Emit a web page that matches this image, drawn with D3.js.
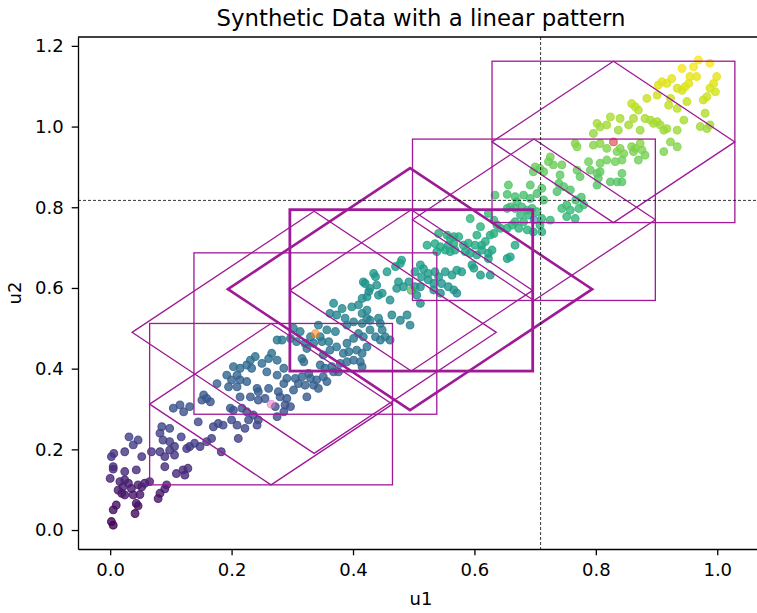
<!DOCTYPE html>
<html>
<head>
<meta charset="utf-8">
<script src="https://cdn.jsdelivr.net/npm/d3@7"></script>
<style>
  body { margin: 0; background: #fff; }
  svg { display: block; font-family: "DejaVu Sans", sans-serif; }
</style>
</head>
<body>
<div id="chart"></div>
<script>
// scatter points [u1, u2]
const points = [
  [0.031,0.231],[0.046,0.223],[0.038,0.211],[0.006,0.190],[0.002,0.182],[0.024,0.194],[0.052,0.182],[0.068,0.194],
  [0.085,0.256],[0.098,0.252],[0.082,0.240],[0.087,0.223],[0.098,0.219],[0.106,0.207],[0.117,0.231],[0.126,0.202],
  [0.131,0.207],[0.139,0.215],[0.148,0.207],[0.159,0.219],[0.167,0.227],[0.170,0.256],[0.178,0.264],[0.186,0.260],
  [0.145,0.268],[0.082,0.194],[0.090,0.182],[0.098,0.198],[0.106,0.186],[0.005,0.157],[0.005,0.151],[0.090,0.157],
  [0.043,0.149],[0.024,0.145],[0.000,0.128],[0.109,0.140],[0.120,0.149],[0.128,0.153],[0.123,0.136],[0.016,0.120],
  [0.024,0.124],[0.030,0.116],[0.021,0.107],[0.013,0.099],[0.019,0.091],[0.024,0.087],[0.035,0.103],[0.046,0.112],
  [0.052,0.107],[0.057,0.116],[0.065,0.120],[0.038,0.087],[0.049,0.088],[0.093,0.112],[0.090,0.102],[0.082,0.091],
  [0.079,0.078],[0.043,0.066],[0.046,0.060],[0.010,0.062],[0.005,0.050],[0.041,0.041],[0.002,0.021],[0.005,0.012],
  [0.183,0.194],
  [0.231,0.421],[0.239,0.430],[0.250,0.413],[0.261,0.425],[0.275,0.421],[0.225,0.409],[0.233,0.401],[0.214,0.401],
  [0.203,0.405],[0.209,0.384],[0.192,0.384],[0.200,0.372],[0.214,0.372],[0.225,0.368],[0.176,0.363],[0.195,0.355],
  [0.209,0.355],[0.242,0.351],[0.244,0.343],[0.258,0.392],[0.275,0.384],[0.286,0.401],[0.291,0.376],[0.286,0.363],
  [0.261,0.351],[0.277,0.343],[0.214,0.330],[0.231,0.330],[0.244,0.322],[0.255,0.326],[0.280,0.330],[0.291,0.326],
  [0.288,0.310],[0.272,0.306],[0.154,0.335],[0.159,0.326],[0.165,0.318],[0.151,0.322],[0.198,0.302],[0.203,0.297],
  [0.217,0.302],[0.225,0.293],[0.104,0.302],[0.115,0.310],[0.121,0.293],[0.131,0.306],[0.286,0.293],[0.236,0.285],
  [0.244,0.273],[0.242,0.260],[0.275,0.281],[0.200,0.273],[0.209,0.260],[0.222,0.252],[0.228,0.273],[0.211,0.227],
  [0.368,0.562],[0.382,0.549],[0.398,0.553],[0.409,0.558],[0.415,0.537],[0.423,0.545],[0.362,0.537],[0.373,0.533],
  [0.387,0.525],[0.401,0.516],[0.415,0.512],[0.423,0.525],[0.390,0.508],[0.302,0.500],[0.313,0.492],[0.343,0.508],
  [0.357,0.496],[0.371,0.492],[0.346,0.479],[0.330,0.479],[0.275,0.471],[0.283,0.471],[0.297,0.475],[0.307,0.467],
  [0.321,0.463],[0.335,0.463],[0.349,0.467],[0.360,0.467],[0.373,0.454],[0.390,0.463],[0.401,0.475],[0.409,0.487],
  [0.417,0.479],[0.423,0.454],[0.393,0.442],[0.406,0.446],[0.415,0.438],[0.384,0.438],[0.324,0.450],[0.316,0.425],
  [0.319,0.417],[0.351,0.434],[0.362,0.446],[0.346,0.409],[0.354,0.401],[0.365,0.405],[0.379,0.413],[0.390,0.417],
  [0.401,0.421],[0.412,0.417],[0.415,0.405],[0.368,0.392],[0.376,0.392],[0.266,0.438],[0.305,0.376],[0.316,0.380],
  [0.327,0.388],[0.330,0.376],[0.340,0.372],[0.351,0.380],[0.357,0.368],[0.310,0.363],[0.321,0.359],[0.335,0.359],
  [0.343,0.351],[0.302,0.347],[0.324,0.330],[0.297,0.306],
  [0.522,0.706],[0.535,0.710],[0.544,0.702],[0.552,0.694],[0.560,0.690],[0.568,0.694],[0.557,0.706],[0.538,0.690],
  [0.566,0.710],[0.480,0.669],[0.478,0.661],[0.470,0.653],[0.456,0.640],[0.434,0.636],[0.437,0.628],[0.417,0.615],
  [0.420,0.611],[0.439,0.607],[0.428,0.599],[0.426,0.591],[0.423,0.578],[0.442,0.582],[0.448,0.587],[0.461,0.570],
  [0.415,0.574],[0.502,0.640],[0.511,0.657],[0.516,0.648],[0.524,0.636],[0.535,0.640],[0.541,0.628],[0.552,0.640],
  [0.563,0.632],[0.571,0.644],[0.513,0.628],[0.524,0.620],[0.533,0.611],[0.546,0.611],[0.557,0.603],[0.566,0.595],
  [0.571,0.587],[0.544,0.587],[0.533,0.595],[0.475,0.615],[0.472,0.599],[0.483,0.603],[0.492,0.615],[0.502,0.603],
  [0.511,0.603],[0.505,0.582],[0.511,0.562],[0.464,0.533],[0.478,0.520],[0.489,0.533],[0.494,0.508],[0.428,0.520],
  [0.442,0.525],[0.445,0.512],[0.448,0.496],[0.453,0.479],[0.461,0.471],[0.428,0.496],[0.437,0.479],[0.445,0.471],
  [0.656,0.855],[0.634,0.830],[0.667,0.826],[0.670,0.814],[0.681,0.830],[0.692,0.822],[0.703,0.834],[0.711,0.847],
  [0.714,0.818],[0.659,0.801],[0.654,0.797],[0.667,0.797],[0.678,0.801],[0.687,0.793],[0.695,0.797],[0.689,0.781],
  [0.676,0.781],[0.711,0.772],[0.593,0.772],[0.610,0.752],[0.623,0.785],[0.632,0.768],[0.637,0.756],[0.643,0.748],
  [0.654,0.748],[0.662,0.756],[0.667,0.764],[0.673,0.748],[0.681,0.764],[0.687,0.744],[0.697,0.739],[0.711,0.739],
  [0.708,0.756],[0.604,0.731],[0.626,0.731],[0.632,0.735],[0.618,0.715],[0.612,0.706],[0.601,0.706],[0.590,0.711],
  [0.582,0.706],[0.574,0.727],[0.566,0.727],[0.560,0.723],[0.555,0.731],[0.541,0.735],[0.585,0.690],[0.593,0.686],
  [0.604,0.682],[0.612,0.694],[0.623,0.686],[0.629,0.694],[0.654,0.673],[0.659,0.677],[0.667,0.706],[0.623,0.673],
  [0.596,0.657],[0.599,0.649],[0.579,0.640],[0.610,0.632],[0.626,0.632],[0.703,0.789],[0.692,0.855],[0.654,0.832],
  [0.802,1.008],[0.807,0.999],[0.818,1.004],[0.796,0.983],[0.766,0.958],[0.769,0.950],[0.796,0.954],[0.807,0.958],
  [0.818,0.946],[0.835,0.938],[0.846,0.933],[0.840,0.946],[0.788,0.913],[0.807,0.909],[0.818,0.917],[0.832,0.913],
  [0.843,0.917],[0.725,0.925],[0.722,0.913],[0.700,0.900],[0.708,0.896],[0.697,0.888],[0.714,0.888],[0.730,0.905],
  [0.744,0.905],[0.741,0.880],[0.769,0.892],[0.774,0.876],[0.791,0.892],[0.802,0.884],[0.807,0.888],[0.804,0.872],
  [0.802,0.855],[0.843,0.884],[0.824,0.863],[0.835,0.863],[0.843,0.863],[0.739,0.859],[0.747,0.851],[0.758,0.843],
  [0.736,0.839],[0.744,0.797],[0.758,0.793],[0.772,0.797],[0.780,0.806],[0.752,0.777],[0.766,0.772],[0.725,0.768],
  [0.752,0.806],[0.767,0.818],[0.776,0.825],[0.837,0.991],[0.854,1.004],
  [0.969,1.165],[0.988,1.157],[0.942,1.144],[0.961,1.148],[0.966,1.124],[0.955,1.124],[0.925,1.119],[0.909,1.111],
  [0.903,1.103],[0.917,1.107],[0.934,1.095],[0.942,1.090],[0.947,1.099],[0.953,1.107],[0.999,1.124],[0.994,1.107],
  [0.988,1.095],[0.997,1.086],[0.983,1.074],[0.977,1.066],[0.901,1.078],[0.923,1.070],[0.920,1.053],[0.934,1.045],
  [0.950,1.062],[0.884,1.070],[0.859,1.057],[0.865,1.049],[0.870,1.041],[0.824,1.024],[0.840,1.020],[0.862,1.020],
  [0.873,0.991],[0.881,1.020],[0.890,1.016],[0.895,1.008],[0.901,1.012],[0.906,1.004],[0.912,0.991],[0.917,0.995],
  [0.934,0.991],[0.945,1.016],[0.972,1.000],[0.983,0.995],[0.988,1.004],[0.980,1.033],[0.923,0.962],[0.912,0.938],
  [0.934,0.950],[0.859,0.950],[0.865,0.946],[0.862,0.938],[0.873,0.958],[0.876,0.942],[0.881,0.929],[0.870,0.917]
];

// square boxes: centre and half side
const boxCx   = [0.829, 0.698, 0.496, 0.338, 0.265];
const boxCy   = [0.962, 0.769, 0.594, 0.487, 0.312];
const boxHalf = [0.200, 0.200, 0.200, 0.200, 0.200];
const boxColors = ["#d62728", "#1f77b4", "#2ca02c", "#ff7f0e", "#e377c2"]; // centre markers

// rotated squares (diamonds): centre and half diagonal
const dmCx   = [0.829, 0.698, 0.496, 0.494, 0.336, 0.265];
const dmCy   = [0.962, 0.769, 0.594, 0.597, 0.490, 0.312];
const dmHalf = [0.200, 0.200, 0.200, 0.300, 0.300, 0.200];

const boldBox = 2, boldDiamond = 3;

// reference lines
const vLine = 0.709;
const hLine = 0.817;

const xTicks = [0, 0.2, 0.4, 0.6, 0.8, 1.0];
const yTicks = [0, 0.2, 0.4, 0.6, 0.8, 1.0, 1.2];
const xLimits = [-0.053, 1.077];
const yLimits = [-0.047, 1.222];

const W = 757, H = 613;
const plot = {left: 78, right: 764, top: 37, bottom: 549};
const lineColor = "#9e1a96";

const svg = d3.select("#chart").append("svg")
  .attr("width", W).attr("height", H);

const x = d3.scaleLinear().domain(xLimits).range([plot.left, plot.right]);
const y = d3.scaleLinear().domain(yLimits).range([plot.bottom, plot.top]);

svg.append("clipPath").attr("id", "clip")
  .append("rect")
  .attr("x", plot.left).attr("y", plot.top)
  .attr("width", plot.right - plot.left).attr("height", plot.bottom - plot.top);

const g = svg.append("g").attr("clip-path", "url(#clip)");

// colour by u2 through viridis
const u2Ext = d3.extent(points, d => d[1]);
const color = d3.scaleSequential(d3.interpolateViridis).domain(u2Ext);

g.append("g").selectAll("circle")
  .data(points)
  .join("circle")
  .attr("cx", d => x(d[0]))
  .attr("cy", d => y(d[1]))
  .attr("r", 3.9)
  .attr("fill", d => color(d[1]))
  .attr("fill-opacity", 0.8)
  .attr("stroke", d => color(d[1]))
  .attr("stroke-opacity", 0.8)
  .attr("stroke-width", 1.1);

// centre markers of the boxes
g.append("g").selectAll("circle")
  .data(boxCx.map((c, i) => i))
  .join("circle")
  .attr("cx", i => x(boxCx[i]))
  .attr("cy", i => y(boxCy[i]))
  .attr("r", 3.9)
  .attr("fill", i => boxColors[i])
  .attr("fill-opacity", 0.55)
  .attr("stroke", i => boxColors[i])
  .attr("stroke-opacity", 0.55)
  .attr("stroke-width", 1.1);

// boxes
g.append("g").selectAll("rect")
  .data(boxCx.map((c, i) => i))
  .join("rect")
  .attr("x", i => x(boxCx[i] - boxHalf[i]))
  .attr("y", i => y(boxCy[i] + boxHalf[i]))
  .attr("width", i => x(boxCx[i] + boxHalf[i]) - x(boxCx[i] - boxHalf[i]))
  .attr("height", i => y(boxCy[i] - boxHalf[i]) - y(boxCy[i] + boxHalf[i]))
  .attr("fill", "none")
  .attr("stroke", lineColor)
  .attr("stroke-width", i => i === boldBox ? 2.8 : 1.3);

// diamonds
const line = d3.line().x(d => x(d[0])).y(d => y(d[1]));
g.append("g").selectAll("path")
  .data(dmCx.map((c, i) => i))
  .join("path")
  .attr("d", i => {
    const cx = dmCx[i], cy = dmCy[i], h = dmHalf[i];
    return line([[cx - h, cy], [cx, cy + h], [cx + h, cy], [cx, cy - h]]) + "Z";
  })
  .attr("fill", "none")
  .attr("stroke", lineColor)
  .attr("stroke-width", i => i === boldDiamond ? 2.6 : 1.3);

// dashed reference lines
g.append("line")
  .attr("x1", x(vLine)).attr("x2", x(vLine))
  .attr("y1", plot.top).attr("y2", plot.bottom)
  .attr("stroke", "#000").attr("stroke-width", 0.8)
  .attr("stroke-dasharray", "3,2");
g.append("line")
  .attr("x1", plot.left).attr("x2", plot.right)
  .attr("y1", y(hLine)).attr("y2", y(hLine))
  .attr("stroke", "#000").attr("stroke-width", 0.8)
  .attr("stroke-dasharray", "3,2");

// axes
const fmt = d3.format(".1f");
const xAxis = svg.append("g")
  .attr("transform", `translate(0,${plot.bottom})`)
  .call(d3.axisBottom(x).tickValues(xTicks).tickFormat(fmt).tickSize(6.3).tickSizeOuter(0).tickPadding(8));
const yAxis = svg.append("g")
  .attr("transform", `translate(${plot.left},0)`)
  .call(d3.axisLeft(y).tickValues(yTicks).tickFormat(fmt).tickSize(6.3).tickSizeOuter(0).tickPadding(8));

[xAxis, yAxis].forEach(a => {
  a.attr("font-family", "DejaVu Sans, sans-serif").attr("font-size", 18);
  a.selectAll("text").attr("fill", "#000");
  a.selectAll("line").attr("stroke", "#000").attr("stroke-width", 1.3);
  a.select(".domain").attr("stroke", "#000").attr("stroke-width", 1.3);
});

// top and right spines
svg.append("line")
  .attr("x1", plot.left).attr("x2", plot.right)
  .attr("y1", plot.top).attr("y2", plot.top)
  .attr("stroke", "#000").attr("stroke-width", 1.3);
svg.append("line")
  .attr("x1", plot.right).attr("x2", plot.right)
  .attr("y1", plot.top).attr("y2", plot.bottom)
  .attr("stroke", "#000").attr("stroke-width", 1.3);

// title and labels
svg.append("text")
  .attr("x", (plot.left + plot.right) / 2)
  .attr("y", 26)
  .attr("text-anchor", "middle")
  .attr("font-size", 22.8)
  .attr("fill", "#000")
  .text("Synthetic Data with a linear pattern");

svg.append("text")
  .attr("x", (plot.left + plot.right) / 2)
  .attr("y", 605)
  .attr("text-anchor", "middle")
  .attr("font-size", 18)
  .attr("fill", "#000")
  .text("u1");

svg.append("text")
  .attr("transform", `translate(21,${(plot.top + plot.bottom) / 2}) rotate(-90)`)
  .attr("text-anchor", "middle")
  .attr("font-size", 18)
  .attr("fill", "#000")
  .text("u2");
</script>
</body>
</html>
